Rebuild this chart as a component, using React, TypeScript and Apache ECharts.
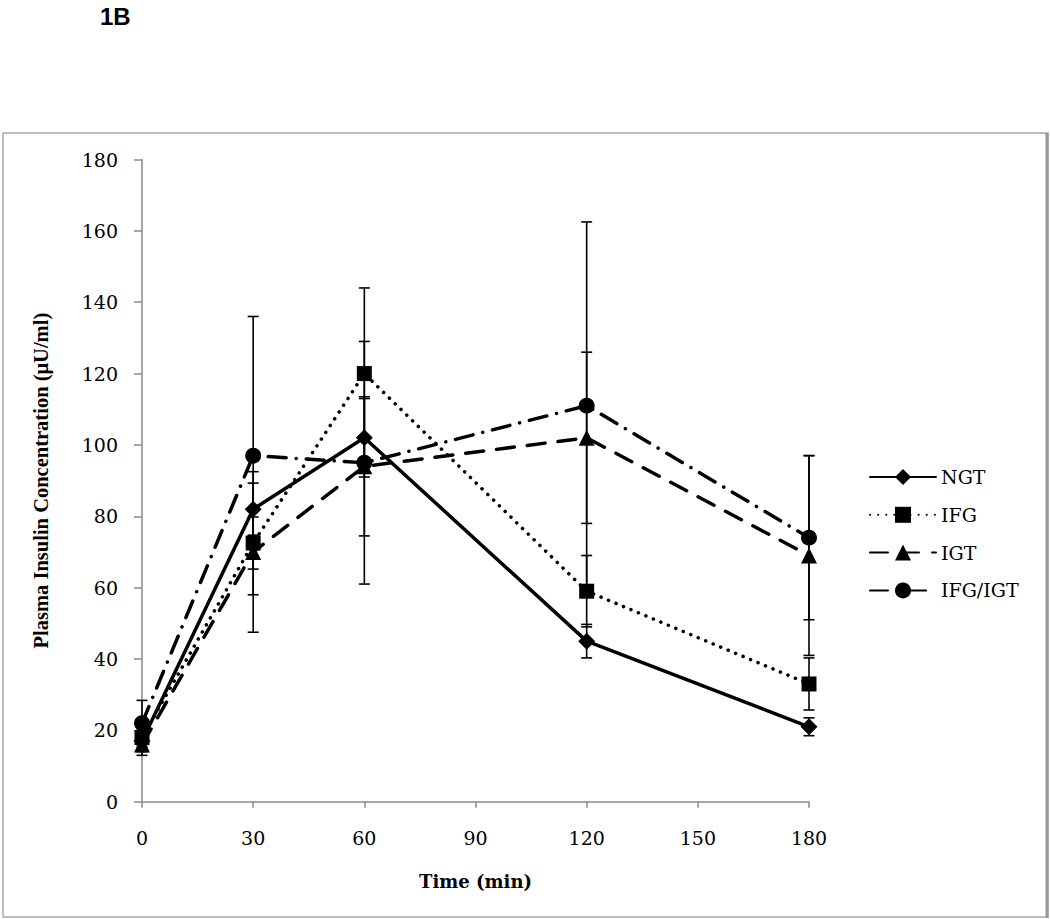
import React, { useEffect, useRef } from "react";
import * as echarts from "echarts";

const times = [0, 30, 60, 120, 180];
const seriesNames = ["NGT", "IFG", "IGT", "IFG/IGT"];
const ngt = [17, 82, 102, 45, 21];
const ngtErr = [3, 7.3, 11, 4.7, 2.5];
const ifg = [18, 72.5, 120, 59, 33];
const ifgErr = [3, 7.3, 24, 10, 7.3];
const igt = [16, 70, 94, 102, 69];
const igtErr = [3, 22.5, 19.5, 24, 28];
const ifgIgt = [22, 97, 95, 111, 74];
const ifgIgtErr = [6.4, 39, 34, 51.5, 23];

const allValues = [ngt, ifg, igt, ifgIgt];
const allErrors = [ngtErr, ifgErr, igtErr, ifgIgtErr];
const symbols = ["diamond", "rect", "triangle", "circle"];
const symbolSizes = [17, 15, 16, 16];
const dashes: any[] = ["solid", [0.1, 8], [18, 13], [18, 10, 0.1, 10]];

const SERIF = "'DejaVu Serif', serif";

export default function App() {
  const ref = useRef<HTMLDivElement>(null);
  useEffect(() => {
    if (!ref.current) return;
    const chart = echarts.init(ref.current, null, { renderer: "svg" });

    const lineSeries = seriesNames.map((name, i) => ({
      name,
      type: "line",
      z: 3,
      data: times.map((t, j) => [t, allValues[i][j]]),
      symbol: symbols[i],
      symbolSize: symbolSizes[i],
      showSymbol: true,
      itemStyle: { color: "#000", borderWidth: 0 },
      lineStyle: { color: "#000", width: 3.5, type: dashes[i], cap: "round" },
    }));

    const errSeries = seriesNames.map((name, i) => ({
      name: name + " error",
      type: "custom",
      z: 2,
      encode: { x: 0, y: 1 },
      data: times.map((t, j) => [t, allValues[i][j], allErrors[i][j]]),
      renderItem: (params: any, api: any) => {
        const x = api.value(0);
        const y = api.value(1);
        const e = api.value(2);
        const top = api.coord([x, y + e]);
        const bot = api.coord([x, y - e]);
        const hw = 5.5;
        const st = { stroke: "#000", lineWidth: 1.6 };
        return {
          type: "group",
          children: [
            { type: "line", shape: { x1: top[0], y1: top[1], x2: bot[0], y2: bot[1] }, style: st },
            { type: "line", shape: { x1: top[0] - hw, y1: top[1], x2: top[0] + hw, y2: top[1] }, style: st },
            { type: "line", shape: { x1: bot[0] - hw, y1: bot[1], x2: bot[0] + hw, y2: bot[1] }, style: st },
          ],
        };
      },
    }));

    chart.setOption({
      animation: false,
      backgroundColor: "#fff",
      graphic: [
        {
          type: "text",
          left: 100,
          top: 4,
          style: { text: "1B", font: "bold 24px 'Liberation Sans', Arial, sans-serif", fill: "#000" },
        },
        {
          type: "rect",
          shape: { x: 3, y: 133, width: 1045, height: 784 },
          style: { fill: "none", stroke: "#a8a8a8", lineWidth: 1.5 },
          silent: true,
        },
        {
          type: "line",
          shape: { x1: 1047, y1: 133, x2: 1047, y2: 918 },
          style: { stroke: "#999", lineWidth: 3 },
          silent: true,
        },
      ],
      grid: { left: 142, top: 159.5, width: 667, height: 642.2, containLabel: false },
      legend: {
        orient: "vertical",
        left: 864,
        top: 462,
        itemWidth: 66,
        itemHeight: 20,
        itemGap: 17.8,
        data: seriesNames,
        textStyle: { fontFamily: SERIF, fontSize: 19, color: "#000", lineHeight: 20 },
      },
      xAxis: {
        type: "value",
        min: 0,
        max: 180,
        interval: 30,
        name: "Time (min)",
        nameLocation: "middle",
        nameGap: 71,
        nameTextStyle: { fontFamily: SERIF, fontWeight: "bold", fontSize: 18, color: "#000" },
        axisLine: { show: true, lineStyle: { color: "#8a8a8a", width: 1.5 } },
        axisTick: { show: true, length: 6, lineStyle: { color: "#8a8a8a", width: 1.5 } },
        axisLabel: { fontFamily: SERIF, fontSize: 19, color: "#000", margin: 27 },
        splitLine: { show: false },
      },
      yAxis: {
        type: "value",
        min: 0,
        max: 180,
        interval: 20,
        name: "Plasma Insulin Concentration (μU/ml)",
        nameLocation: "middle",
        nameRotate: 90,
        nameGap: 91,
        nameTextStyle: { fontFamily: "'Liberation Serif', serif", fontWeight: "bold", fontSize: 20.5, color: "#000" },
        axisLine: { show: true, lineStyle: { color: "#8a8a8a", width: 1.5 } },
        axisTick: { show: true, length: 8, lineStyle: { color: "#8a8a8a", width: 1.5 } },
        axisLabel: { fontFamily: SERIF, fontSize: 19, color: "#000", margin: 24 },
        splitLine: { show: false },
      },
      series: [...errSeries, ...lineSeries],
    });
    return () => chart.dispose();
  }, []);
  return (
    <div
      ref={ref}
      style={{ position: "absolute", left: 0, top: 0, width: 1050, height: 919 }}
    />
  );
}
